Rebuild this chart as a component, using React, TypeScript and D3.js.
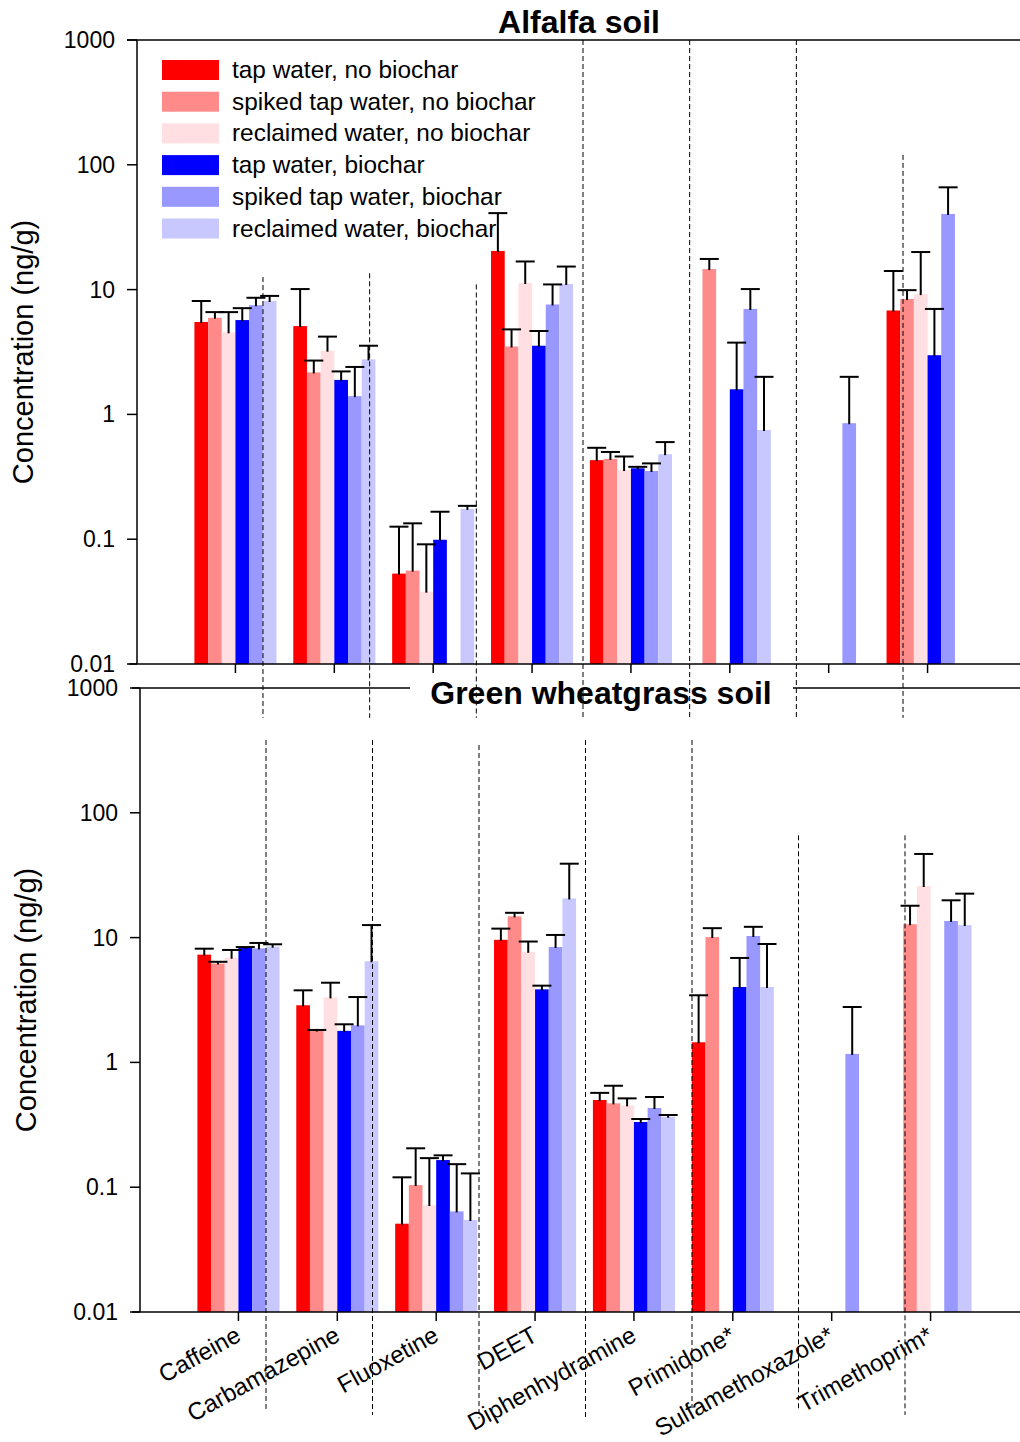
import React from "react";
import * as d3 from "d3";

const CATEGORIES = [
  "Caffeine",
  "Carbamazepine",
  "Fluoxetine",
  "DEET",
  "Diphenhydramine",
  "Primidone*",
  "Sulfamethoxazole*",
  "Trimethoprim*",
];
const SERIES = [
  "tap water, no biochar",
  "spiked tap water, no biochar",
  "reclaimed water, no biochar",
  "tap water, biochar",
  "spiked tap water, biochar",
  "reclaimed water, biochar",
];
const COLORS = ["#FF0000", "#FF8A8A", "#FFDFE1", "#0000FF", "#9898FF", "#C8C8FF"];
const TICKS = [0.01, 0.1, 1, 10, 100, 1000];
const TICK_LABELS = ["0.01", "0.1", "1", "10", "100", "1000"];

// Alfalfa soil (ng/g), mean and top of error bar
const ALF_TAP = [5.5, 5.1, 0.053, 20.4, 0.43, null, null, 6.8];
const ALF_TAP_UP = [8.1, 10.1, 0.126, 41, 0.54, null, null, 14.1];
const ALF_SPIKED = [5.95, 2.17, 0.056, 3.5, 0.44, 14.6, null, 8.4];
const ALF_SPIKED_UP = [6.6, 2.7, 0.134, 4.8, 0.5, 17.6, null, 9.9];
const ALF_RECL = [4.55, 3.24, 0.038, 11.3, 0.358, null, null, 9.2];
const ALF_RECL_UP = [6.6, 4.2, 0.091, 16.8, 0.46, null, null, 20];
const ALF_TAP_BC = [5.7, 1.89, 0.099, 3.55, 0.37, 1.59, null, 2.98];
const ALF_TAP_BC_UP = [7.1, 2.21, 0.166, 4.66, 0.38, 3.76, null, 7.0];
const ALF_SPIKED_BC = [7.5, 1.4, null, 7.6, 0.352, 7.0, 0.85, 40.4];
const ALF_SPIKED_BC_UP = [8.6, 2.4, null, 11, 0.405, 10.1, 2.0, 66];
const ALF_RECL_BC = [8.1, 2.76, 0.175, 11.1, 0.48, 0.75, null, null];
const ALF_RECL_BC_UP = [8.9, 3.55, 0.185, 15.3, 0.6, 2.0, null, null];

// Green wheatgrass soil (ng/g)
const GW_TAP = [7.3, 2.87, 0.051, 9.6, 0.5, 1.45, null, null];
const GW_TAP_UP = [8.15, 3.78, 0.12, 11.8, 0.57, 3.45, null, null];
const GW_SPIKED = [6.2, 1.8, 0.104, 14.8, 0.47, 10.1, null, 12.8];
const GW_SPIKED_UP = [6.4, 1.82, 0.205, 15.8, 0.65, 11.9, null, 18];
const GW_RECL = [6.9, 3.32, 0.072, 7.7, 0.453, null, null, 25.9];
const GW_RECL_UP = [7.96, 4.35, 0.171, 9.3, 0.515, null, null, 46.8];
const GW_TAP_BC = [8.26, 1.79, 0.165, 3.85, 0.333, 4.02, null, null];
const GW_TAP_BC_UP = [8.4, 2.02, 0.18, 4.12, 0.352, 6.87, null, null];
const GW_SPIKED_BC = [8.2, 1.98, 0.064, 8.4, 0.431, 10.3, 1.17, 13.6];
const GW_SPIKED_BC_UP = [9.06, 3.34, 0.153, 10.5, 0.528, 12.2, 2.78, 19.9];
const GW_RECL_BC = [8.46, 6.46, 0.0546, 20.6, 0.367, 4.02, null, 12.6];
const GW_RECL_BC_UP = [8.84, 12.6, 0.129, 39.1, 0.379, 8.89, null, 22.5];

// dashed separator lines, extent in data units (from, to)
const ALF_SEP_FROM = [12.6, 13.5, 11, 1000, 1000, 1000, 120];
const ALF_SEP_TO = [0.0037, 0.0037, 0.0037, 0.0037, 0.0037, 0.0037, 0.0037];
const GW_SEP_FROM = [383, 383, 349, 383, 383, 66, 66];
const GW_SEP_TO = [0.0016, 0.0015, 0.0014, 0.0014, 0.0017, 0.0016, 0.0015];

const FONT = "Liberation Sans, Arial, Helvetica, sans-serif";

type Val = number | null;

function Panel(props: {
  title: string;
  titleX: number;
  titleY: number;
  means: Val[][];
  uppers: Val[][];
  sepFrom: number[];
  sepTo: number[];
  left: number;
  top: number;
  bottom: number;
  right: number;
  band: [number, number];
  sepBand: [number, number];
  topGap?: [number, number];
  showLabels: boolean;
  showLegend: boolean;
}) {
  const { left, top, bottom, right } = props;
  const y = d3.scaleLog().domain([0.01, 1000]).range([bottom, top]);
  const x = d3
    .scaleBand<string>()
    .domain(CATEGORIES)
    .range(props.band)
    .paddingInner(0.17)
    .paddingOuter(0.085);
  const xs = d3
    .scaleBand<string>()
    .domain(SERIES)
    .range([0, x.bandwidth()]);
  const sep = d3
    .scaleBand<number>()
    .domain(d3.range(8))
    .range(props.sepBand);

  return (
    <g fontFamily={FONT}>
      {/* bars */}
      {props.means.map((series, s) =>
        series.map((v, c) =>
          v == null ? null : (
            <rect
              key={`b${s}-${c}`}
              x={(x(CATEGORIES[c]) as number) + (xs(SERIES[s]) as number)}
              y={y(v)}
              width={xs.bandwidth()}
              height={bottom - y(v)}
              fill={COLORS[s]}
            />
          )
        )
      )}
      {/* error bars */}
      {props.means.map((series, s) =>
        series.map((v, c) => {
          const up = props.uppers[s][c];
          if (v == null || up == null) return null;
          const cx = (x(CATEGORIES[c]) as number) + (xs(SERIES[s]) as number) + xs.bandwidth() / 2;
          return (
            <g key={`e${s}-${c}`} stroke="#000" strokeWidth={2}>
              <line x1={cx} x2={cx} y1={y(v) + 1} y2={y(up)} />
              <line x1={cx - 9.5} x2={cx + 9.5} y1={y(up)} y2={y(up)} />
            </g>
          );
        })
      )}

      {/* y axis */}
      <line x1={left} x2={left} y1={top} y2={bottom} stroke="#000" strokeWidth={1.5} />
      {TICKS.map((t, i) => (
        <g key={`t${i}`}>
          <line x1={left - 10} x2={left} y1={y(t)} y2={y(t)} stroke="#000" strokeWidth={1.5} />
          <text x={left - 22} y={y(t) + 8} fontSize={23} textAnchor="end">
            {TICK_LABELS[i]}
          </text>
        </g>
      ))}
      {/* top frame line */}
      {props.topGap ? (
        <>
          <line x1={left - 8} x2={props.topGap[0]} y1={top} y2={top} stroke="#000" strokeWidth={1.5} />
          <line x1={props.topGap[1]} x2={right} y1={top} y2={top} stroke="#000" strokeWidth={1.5} />
        </>
      ) : (
        <line x1={left - 10} x2={right} y1={top} y2={top} stroke="#000" strokeWidth={1.5} />
      )}
      {/* x axis */}
      <line x1={left - 8} x2={right} y1={bottom} y2={bottom} stroke="#000" strokeWidth={1.5} />
      {CATEGORIES.map((c) => {
        const cx = (x(c) as number) + x.bandwidth() / 2;
        return (
          <g key={c}>
            <line x1={cx} x2={cx} y1={bottom} y2={bottom + 9} stroke="#000" strokeWidth={1.5} />
            {props.showLabels ? (
              <text
                transform={`translate(${cx + 4}, ${bottom + 28}) rotate(-29)`}
                fontSize={24}
                textAnchor="end"
              >
                {c}
              </text>
            ) : null}
          </g>
        );
      })}

      {/* y label */}
      <text
        transform={`translate(${left - 104}, ${(top + bottom) / 2}) rotate(-90)`}
        fontSize={29}
        textAnchor="middle"
      >
        Concentration (ng/g)
      </text>

      {/* title */}
      <text x={props.titleX} y={props.titleY} fontSize={32} fontWeight="bold" textAnchor="middle">
        {props.title}
      </text>

      {/* legend */}
      {props.showLegend
        ? SERIES.map((s, i) => (
            <g key={s} transform={`translate(162, ${60 + i * 31.7})`}>
              <rect width={57} height={20} fill={COLORS[i]} />
              <text x={70} y={18} fontSize={24.4}>
                {s}
              </text>
            </g>
          ))
        : null}

      {/* dashed separators */}
      {props.sepFrom.map((f, i) => {
        const sx = sep(i + 1) as number;
        return (
          <line
            key={`s${i}`}
            x1={sx}
            x2={sx}
            y1={y(f)}
            y2={y(props.sepTo[i])}
            stroke="#000"
            strokeWidth={1}
            strokeDasharray="5,3"
          />
        );
      })}
    </g>
  );
}

const App = () => {
  const alfMeans = [ALF_TAP, ALF_SPIKED, ALF_RECL, ALF_TAP_BC, ALF_SPIKED_BC, ALF_RECL_BC];
  const alfUps = [ALF_TAP_UP, ALF_SPIKED_UP, ALF_RECL_UP, ALF_TAP_BC_UP, ALF_SPIKED_BC_UP, ALF_RECL_BC_UP];
  const gwMeans = [GW_TAP, GW_SPIKED, GW_RECL, GW_TAP_BC, GW_SPIKED_BC, GW_RECL_BC];
  const gwUps = [GW_TAP_UP, GW_SPIKED_UP, GW_RECL_UP, GW_TAP_BC_UP, GW_SPIKED_BC_UP, GW_RECL_BC_UP];
  return (
    <svg
      width={1020}
      height={1442}
      style={{ position: "absolute", left: 0, top: 0, background: "#fff" }}
    >
      <rect width={1020} height={1442} fill="#fff" />
      <Panel
        title="Alfalfa soil"
        titleX={579}
        titleY={33}
        means={alfMeans}
        uppers={alfUps}
        sepFrom={ALF_SEP_FROM}
        sepTo={ALF_SEP_TO}
        left={137}
        top={40}
        bottom={664}
        right={1020}
        band={[186, 977]}
        sepBand={[156.3, 1009.7]}
        showLabels={false}
        showLegend={true}
      />
      <Panel
        title="Green wheatgrass soil"
        titleX={601}
        titleY={704}
        means={gwMeans}
        uppers={gwUps}
        sepFrom={GW_SEP_FROM}
        sepTo={GW_SEP_TO}
        left={140}
        top={688}
        bottom={1312}
        right={1020}
        band={[189, 980]}
        sepBand={[159.5, 1011.5]}
        topGap={[410, 793]}
        showLabels={true}
        showLegend={false}
      />
    </svg>
  );
};

export default App;
